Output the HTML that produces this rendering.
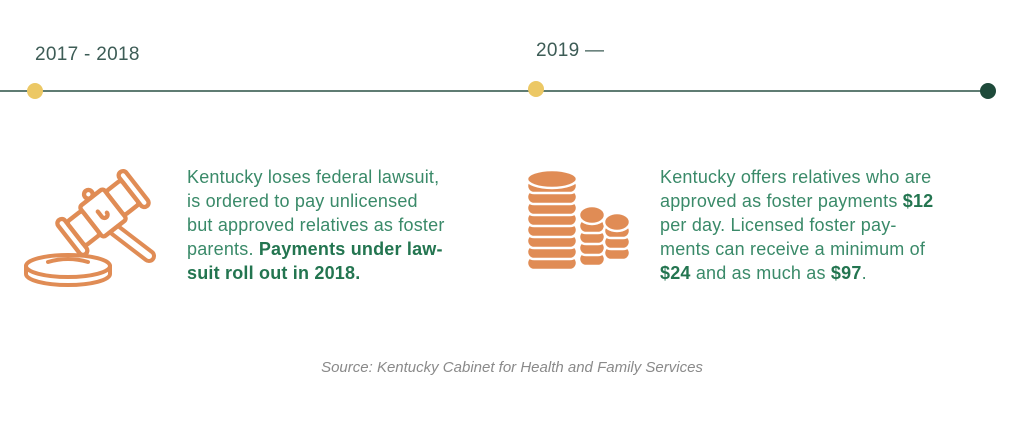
<!DOCTYPE html>
<html><head><style>
html,body{margin:0;padding:0;background:#fff;width:1024px;height:434px;overflow:hidden;position:relative;font-family:"Liberation Sans",sans-serif}
.t{position:absolute;font-size:19px;color:#3d5c56;letter-spacing:0.3px}
.p{position:absolute;font-size:18px;line-height:24px;color:#3a8a69;letter-spacing:0.2px}
.p b{color:#237550}
.src{position:absolute;left:0;width:1024px;text-align:center;top:359px;font-size:15px;font-style:italic;color:#8a8a8a}
</style></head><body>
<div class="t" style="left:35px;top:44px">2017 - 2018</div>
<div class="t" style="left:536px;top:40px">2019 —</div>
<svg width="1024" height="434" style="position:absolute;left:0;top:0">
<line x1="0" y1="91" x2="988" y2="91" stroke="#5f7c73" stroke-width="2"/>
<circle cx="35" cy="91" r="8" fill="#ecc865"/>
<circle cx="536" cy="89" r="8" fill="#ecc865"/>
<circle cx="988" cy="91" r="8" fill="#1e4a3a"/>
<g fill="none" stroke="#e08c55" stroke-width="4" stroke-linecap="round" stroke-linejoin="round">
<ellipse cx="68" cy="266" rx="42" ry="11"/>
<path d="M26 266 v8 a42 11 0 0 0 84 0 v-8"/>
<path d="M48 262 q20 -6 40 0"/>
<g transform="translate(103,213) rotate(-38) scale(1.08)">
<rect x="-14" y="-18" width="28" height="36" rx="3"/>
<rect x="-32" y="-14" width="18" height="28" rx="3"/>
<rect x="14" y="-14" width="18" height="28" rx="3"/>
<rect x="-40" y="-20" width="8" height="40" rx="4"/>
<rect x="32" y="-20" width="8" height="40" rx="4"/>
<circle cx="0" cy="-22" r="4"/>
<path d="M-3 -4 v6 a3 3 0 0 0 6 0"/>
</g>
<path d="M118 226 l34 26 a5 5 0 0 1 -6 8 l-34 -26"/>
</g>
<g fill="#e08c55" stroke="#fff" stroke-width="2.5">
<rect x="527" y="256" width="50" height="14" rx="7"/>
<rect x="527" y="245" width="50" height="14" rx="7"/>
<rect x="527" y="234" width="50" height="14" rx="7"/>
<rect x="527" y="223" width="50" height="14" rx="7"/>
<rect x="527" y="212" width="50" height="14" rx="7"/>
<rect x="527" y="201" width="50" height="14" rx="7"/>
<rect x="527" y="190" width="50" height="14" rx="7"/>
<rect x="527" y="179" width="50" height="14" rx="7"/>
<ellipse cx="552" cy="179" rx="25" ry="9"/>
<rect x="579" y="252" width="26" height="14" rx="7"/>
<rect x="579" y="241" width="26" height="14" rx="7"/>
<rect x="579" y="230" width="26" height="14" rx="7"/>
<rect x="579" y="219" width="26" height="14" rx="7"/>
<ellipse cx="592" cy="215" rx="13" ry="9"/>
<rect x="604" y="246" width="26" height="14" rx="7"/>
<rect x="604" y="235" width="26" height="14" rx="7"/>
<rect x="604" y="224" width="26" height="14" rx="7"/>
<ellipse cx="617" cy="222" rx="13" ry="9"/>
</g>
</svg>
<div class="p" style="left:187px;top:165px">Kentucky loses federal lawsuit,<br>is ordered to pay unlicensed<br>but approved relatives as foster<br>parents. <b>Payments under law-<br>suit roll out in 2018.</b></div>
<div class="p" style="left:660px;top:165px">Kentucky offers relatives who are<br>approved as foster payments <b>$12</b><br>per day. Licensed foster pay-<br>ments can receive a minimum of<br><b>$24</b> and as much as <b>$97</b>.</div>
<div class="src">Source: Kentucky Cabinet for Health and Family Services</div>
</body></html>
